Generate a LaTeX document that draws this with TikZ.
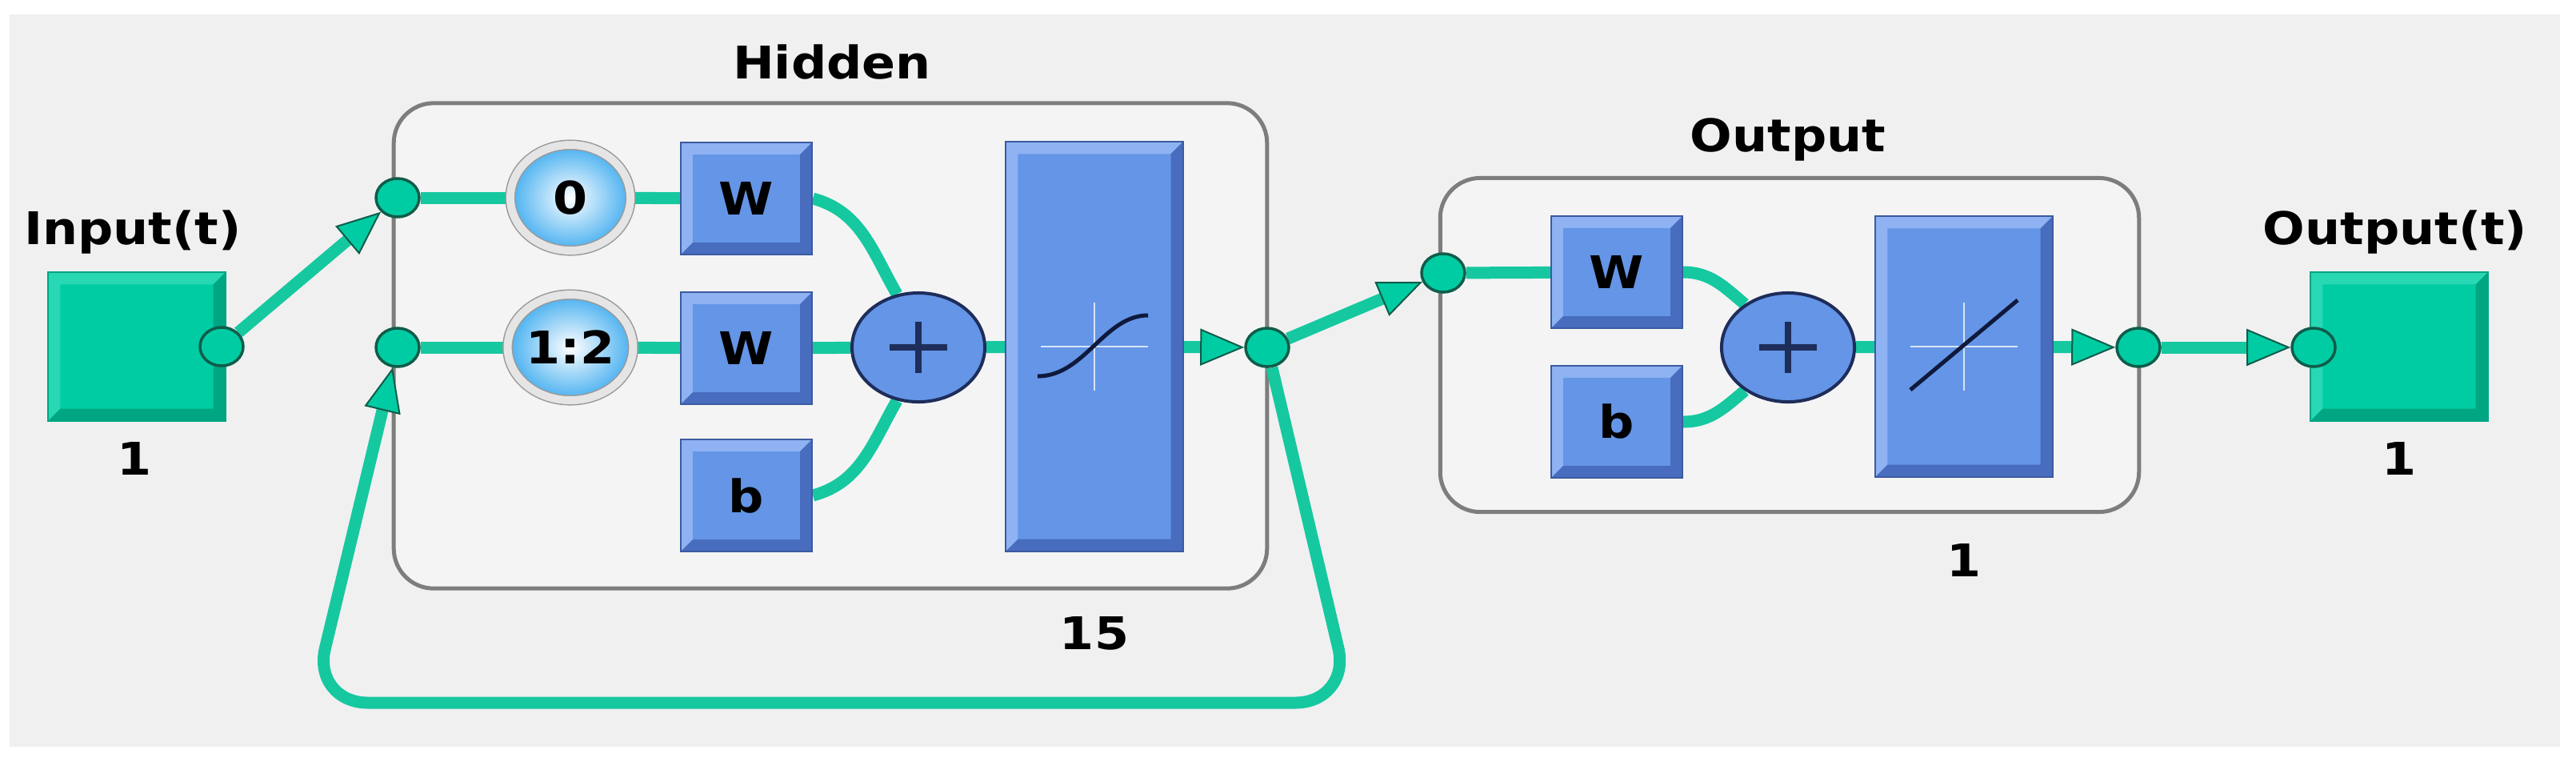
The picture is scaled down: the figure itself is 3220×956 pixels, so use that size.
\documentclass[tikz,border=0pt]{standalone}
\usepackage{fontspec}
\setmainfont{DejaVu Sans}[FakeStretch=1.1]
\usetikzlibrary{arrows.meta,shapes.geometric,backgrounds}

\definecolor{bggray}{RGB}{240,240,240}
\definecolor{layerfill}{RGB}{244,244,244}
\definecolor{layerdraw}{RGB}{125,125,125}
\definecolor{nnblue}{RGB}{100,149,230}
\definecolor{bluelight}{RGB}{142,178,242}
\definecolor{bluedark}{RGB}{72,108,190}
\definecolor{blueedge}{RGB}{60,90,160}
\definecolor{nnteal}{RGB}{0,204,163}
\definecolor{teallight}{RGB}{40,215,180}
\definecolor{tealdark}{RGB}{0,165,130}
\definecolor{tealedge}{RGB}{16,92,74}
\definecolor{linteal}{RGB}{22,200,160}
\definecolor{dialblue}{RGB}{70,175,240}
\definecolor{sumedge}{RGB}{30,45,90}
\definecolor{curvenavy}{RGB}{15,25,60}

\newcommand{\bev}{0.15cm}
\newcommand{\lblfont}{\bfseries\fontsize{16}{19}\selectfont}

\tikzset{
  bevel/.style 2 args={path picture={
    \path (path picture bounding box.south west) coordinate (bsw)
          (path picture bounding box.north west) coordinate (bnw)
          (path picture bounding box.north east) coordinate (bne)
          (path picture bounding box.south east) coordinate (bse);
    \fill[#1] (bsw) -- (bnw) -- (bne) -- ([shift={(-\bev,-\bev)}]bne)
      -- ([shift={(\bev,-\bev)}]bnw) -- ([shift={(\bev,\bev)}]bsw) -- cycle;
    \fill[#2] (bsw) -- (bse) -- (bne) -- ([shift={(-\bev,-\bev)}]bne)
      -- ([shift={(-\bev,\bev)}]bse) -- ([shift={(\bev,\bev)}]bsw) -- cycle;
  }},
  wbox/.style={rectangle, draw=blueedge, line width=0.02cm, fill=nnblue,
    bevel={bluelight}{bluedark}, minimum width=1.64cm, minimum height=1.40cm,
    inner sep=0pt, font=\lblfont},
  tfbox/.style={wbox, minimum width=2.21cm},
  iobox/.style={rectangle, draw=tealdark, line width=0.02cm, fill=nnteal,
    bevel={teallight}{tealdark}, minimum width=2.21cm, minimum height=1.85cm},
  port/.style={ellipse, draw=tealedge, line width=0.035cm, fill=nnteal,
    minimum width=0.54cm, minimum height=0.48cm, inner sep=0pt},
  delay/.style={ellipse, draw=gray!80, double=gray!20, double distance=0.1cm,
    line width=0.015cm, inner color=white, outer color=dialblue,
    minimum width=1.50cm, minimum height=1.32cm, inner sep=0pt, font=\lblfont},
  sum/.style={ellipse, draw=sumedge, line width=0.04cm, fill=nnblue,
    minimum width=1.66cm, minimum height=1.36cm, path picture={
    \draw[line width=0.08cm]
      ([xshift=-0.36cm]path picture bounding box.center) -- ([xshift=0.36cm]path picture bounding box.center)
      ([yshift=-0.32cm]path picture bounding box.center) -- ([yshift=0.32cm]path picture bounding box.center);
  }},
  layer/.style={rectangle, draw=layerdraw, line width=0.05cm, fill=layerfill,
    rounded corners=0.5cm},
  lbl/.style={font=\lblfont, anchor=base},
  conn/.style={draw=linteal, line width=0.15cm},
  arr/.style={conn, -{Triangle[length=0.55cm, width=0.46cm, fill=nnteal,
    color=tealedge, line width=0.02cm]}},
  plotaxis/.style={draw=white!75!nnblue, line width=0.025cm},
  plotcurve/.style={draw=curvenavy, line width=0.05cm}
}

\begin{document}
\begin{tikzpicture}[x=0.01cm, y=-0.01cm]
  \useasboundingbox (0,0) rectangle (3220,956);

  % input
  \node[iobox] (inbox) at (171,433) {};
  \node[port] (inport) at (277,433) {};
  \node[lbl] (inlbl) at (166,305) {Input(t)};
  \node[lbl] (insize) at (168,593) {1};

  % hidden layer
  \node[port] (hin1) at (497,247) {};
  \node[port] (hin2) at (497,434) {};
  \node[delay] (d0) at (713,247) {0};
  \node[delay] (d12) at (713,434) {1:2};
  \node[wbox] (w1) at (933,248) {W};
  \node[wbox] (w2) at (933,435) {W};
  \node[wbox] (hb) at (933,619) {b};
  \node[sum] (hsum) at (1148,434) {};
  \node[tfbox, minimum height=5.11cm] (tf1) at (1368,433) {};
  \draw[plotaxis] ([xshift=-0.67cm]tf1.center) -- ([xshift=0.67cm]tf1.center);
  \draw[plotaxis] ([yshift=-0.55cm]tf1.center) -- ([yshift=0.55cm]tf1.center);
  \draw[plotcurve] ([shift={(-0.71cm,-0.37cm)}]tf1.center)
    .. controls ([shift={(-0.12cm,-0.37cm)}]tf1.center) and ([shift={(0.12cm,0.39cm)}]tf1.center)
    .. ([shift={(0.67cm,0.39cm)}]tf1.center);
  \node[port] (hout) at (1584,434) {};
  \node[lbl] (hiddenlbl) at (1040,98) {Hidden};
  \node[lbl] (hiddensize) at (1368,811) {15};

  % output layer
  \node[port] (oin) at (1804,341) {};
  \node[wbox] (ow) at (2021,340) {W};
  \node[wbox] (ob) at (2021,527) {b};
  \node[sum] (osum) at (2235,434) {};
  \node[tfbox, minimum height=3.25cm] (lin) at (2455,433) {};
  \draw[plotaxis] ([xshift=-0.67cm]lin.center) -- ([xshift=0.67cm]lin.center);
  \draw[plotaxis] ([yshift=-0.55cm]lin.center) -- ([yshift=0.55cm]lin.center);
  \draw[plotcurve] ([shift={(-0.67cm,-0.54cm)}]lin.center) -- ([shift={(0.67cm,0.58cm)}]lin.center);
  \node[port] (oout) at (2673,434) {};
  \node[lbl] (outputlbl) at (2235,189) {Output};
  \node[lbl] (outputsize) at (2455,720) {1};

  % output
  \node[iobox] (outbox) at (2999,433) {};
  \node[port] (outport) at (2892,434) {};
  \node[lbl] (outlbl) at (2994,305) {Output(t)};
  \node[lbl] (outsize) at (2999,593) {1};

  \begin{pgfonlayer}{background}
    \fill[white] (0,0) rectangle (3220,956);
    \fill[bggray] (12,18) rectangle (3200,933);
    \node[layer, minimum width=10.91cm, minimum height=6.06cm] (hidden) at (1038,432) {};
    \node[layer, minimum width=8.73cm, minimum height=4.17cm] (output) at (2237,431) {};

    \draw[arr] (inport) -- (hin1);
    \draw[conn] (hin1) -- (d0);
    \draw[conn] (d0) -- (w1);
    \draw[conn] (hin2) -- (d12);
    \draw[conn] (d12) -- (w2);
    \draw[conn] (w1.east) to[out=-15, in=120] (hsum.112);
    \draw[conn] (w2) -- (hsum);
    \draw[conn] (hb.east) to[out=15, in=-120] (hsum.-112);
    \draw[conn] (hsum) -- (tf1);
    \draw[arr] (tf1) -- (hout);

    % feedback
    \coordinate (fbR) at (1689,878);
    \coordinate (fbL) at (390,878);
    \draw[arr, rounded corners=0.7cm] (hout) -- (fbR) -- (fbL) -- (hin2);

    \draw[arr] (hout) -- (oin);
    \draw[conn] (oin) -- (ow);
    \draw[conn] (ow.east) to[out=0, in=140] (osum.135);
    \draw[conn] (ob.east) to[out=0, in=-140] (osum.-135);
    \draw[conn] (osum) -- (lin);
    \draw[arr] (lin) -- (oout);
    \draw[arr] (oout) -- (outport);
  \end{pgfonlayer}
\end{tikzpicture}
\end{document}
